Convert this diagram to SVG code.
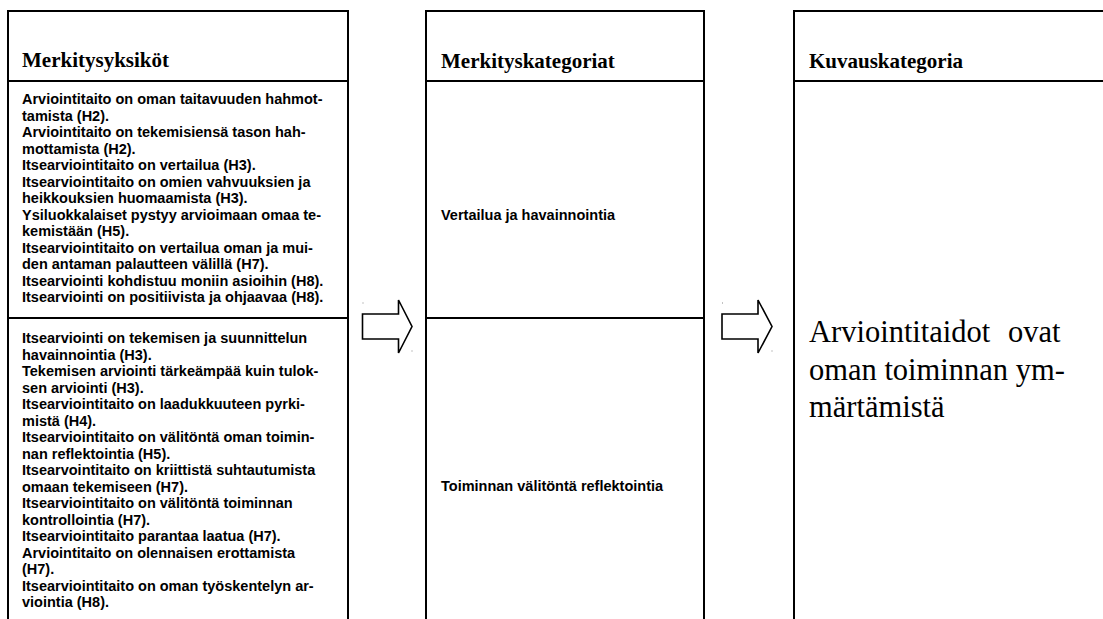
<svg xmlns="http://www.w3.org/2000/svg" width="1103" height="619" viewBox="0 0 1103 619">
  <style>
    .frame { fill: none; stroke: #000; stroke-width: 2; }
    .rule { stroke: #000; stroke-width: 2; }
    .head { font-family: "Liberation Serif", "Times New Roman", serif; font-weight: bold; font-size: 21px; fill: #000; }
    .body { font-family: "Liberation Sans", Arial, sans-serif; font-weight: bold; font-size: 14.5px; fill: #000; }
    .big { font-family: "Liberation Serif", "Times New Roman", serif; font-size: 30.5px; fill: #000; }
    .arrow { fill: #fff; stroke: #000; stroke-width: 1.6; stroke-linejoin: miter; }
    .dot { fill: #888; }
  </style>
  <rect width="1103" height="619" fill="#fff"/>

  <!-- Column 1: meaning units -->
  <g id="units">
    <rect class="frame" x="8" y="11" width="340" height="640"/>
    <line class="rule" x1="8" y1="81" x2="348" y2="81"/>
    <line class="rule" x1="8" y1="318" x2="348" y2="318"/>
    <text class="head" x="22" y="67">Merkitysyksiköt</text>
    <text class="body" x="22" y="104">
      <tspan x="22" dy="0">Arviointitaito on oman taitavuuden hahmot-</tspan>
      <tspan x="22" dy="16.5">tamista (H2).</tspan>
      <tspan x="22" dy="16.5">Arviointitaito on tekemisiensä tason hah-</tspan>
      <tspan x="22" dy="16.5">mottamista (H2).</tspan>
      <tspan x="22" dy="16.5">Itsearviointitaito on vertailua (H3).</tspan>
      <tspan x="22" dy="16.5">Itsearviointitaito on omien vahvuuksien ja</tspan>
      <tspan x="22" dy="16.5">heikkouksien huomaamista (H3).</tspan>
      <tspan x="22" dy="16.5">Ysiluokkalaiset pystyy arvioimaan omaa te-</tspan>
      <tspan x="22" dy="16.5">kemistään (H5).</tspan>
      <tspan x="22" dy="16.5">Itsearviointitaito on vertailua oman ja mui-</tspan>
      <tspan x="22" dy="16.5">den antaman palautteen välillä (H7).</tspan>
      <tspan x="22" dy="16.5">Itsearviointi kohdistuu moniin asioihin (H8).</tspan>
      <tspan x="22" dy="16.5">Itsearviointi on positiivista ja ohjaavaa (H8).</tspan>
    </text>
    <text class="body" x="22" y="343">
      <tspan x="22" dy="0">Itsearviointi on tekemisen ja suunnittelun</tspan>
      <tspan x="22" dy="16.5">havainnointia (H3).</tspan>
      <tspan x="22" dy="16.5">Tekemisen arviointi tärkeämpää kuin tulok-</tspan>
      <tspan x="22" dy="16.5">sen arviointi (H3).</tspan>
      <tspan x="22" dy="16.5">Itsearviointitaito on laadukkuuteen pyrki-</tspan>
      <tspan x="22" dy="16.5">mistä (H4).</tspan>
      <tspan x="22" dy="16.5">Itsearviointitaito on välitöntä oman toimin-</tspan>
      <tspan x="22" dy="16.5">nan reflektointia (H5).</tspan>
      <tspan x="22" dy="16.5">Itsearvointitaito on kriittistä suhtautumista</tspan>
      <tspan x="22" dy="16.5">omaan tekemiseen (H7).</tspan>
      <tspan x="22" dy="16.5">Itsearviointitaito on välitöntä toiminnan</tspan>
      <tspan x="22" dy="16.5">kontrollointia (H7).</tspan>
      <tspan x="22" dy="16.5">Itsearviointitaito parantaa laatua (H7).</tspan>
      <tspan x="22" dy="16.5">Arviointitaito on olennaisen erottamista</tspan>
      <tspan x="22" dy="16.5">(H7).</tspan>
      <tspan x="22" dy="16.5">Itsearviointitaito on oman työskentelyn ar-</tspan>
      <tspan x="22" dy="16.5">viointia (H8).</tspan>
    </text>
  </g>

  <!-- Column 2: meaning categories -->
  <g id="categories">
    <rect class="frame" x="426" y="11" width="278" height="640"/>
    <line class="rule" x1="426" y1="81" x2="704" y2="81"/>
    <line class="rule" x1="426" y1="318" x2="704" y2="318"/>
    <text class="head" x="441" y="68">Merkityskategoriat</text>
    <text class="body" x="441" y="220">Vertailua ja havainnointia</text>
    <text class="body" x="441" y="491">Toiminnan välitöntä reflektointia</text>
  </g>

  <!-- Column 3: description category (justified paragraph) -->
  <g id="description">
    <rect class="frame" x="794" y="11" width="340" height="640"/>
    <line class="rule" x1="794" y1="81" x2="1103" y2="81"/>
    <text class="head" x="809" y="68">Kuvauskategoria</text>
    <text class="big" y="342">
      <tspan x="809">Arviointitaidot</tspan>
      <tspan x="1008">ovat</tspan>
      <tspan x="809" y="379.5">oman toiminnan ym-</tspan>
      <tspan x="809" y="417">märtämistä</tspan>
    </text>
  </g>

  <!-- Block arrows between the columns -->
  <g id="connectors">
    <polygon class="arrow" points="362.5,314 398.5,314 398.5,300 412,326.5 398.5,353 398.5,339 362.5,339"/>
    <rect class="dot" x="362.5" y="302.5" width="1" height="1"/>
    <rect class="dot" x="411.5" y="350.5" width="1" height="1"/>
    <polygon class="arrow" points="722,314 758,314 758,300 772,326.5 758,353 758,339 722,339"/>
    <rect class="dot" x="722" y="302.5" width="1" height="1"/>
    <rect class="dot" x="771.5" y="350.5" width="1" height="1"/>
  </g>
</svg>
